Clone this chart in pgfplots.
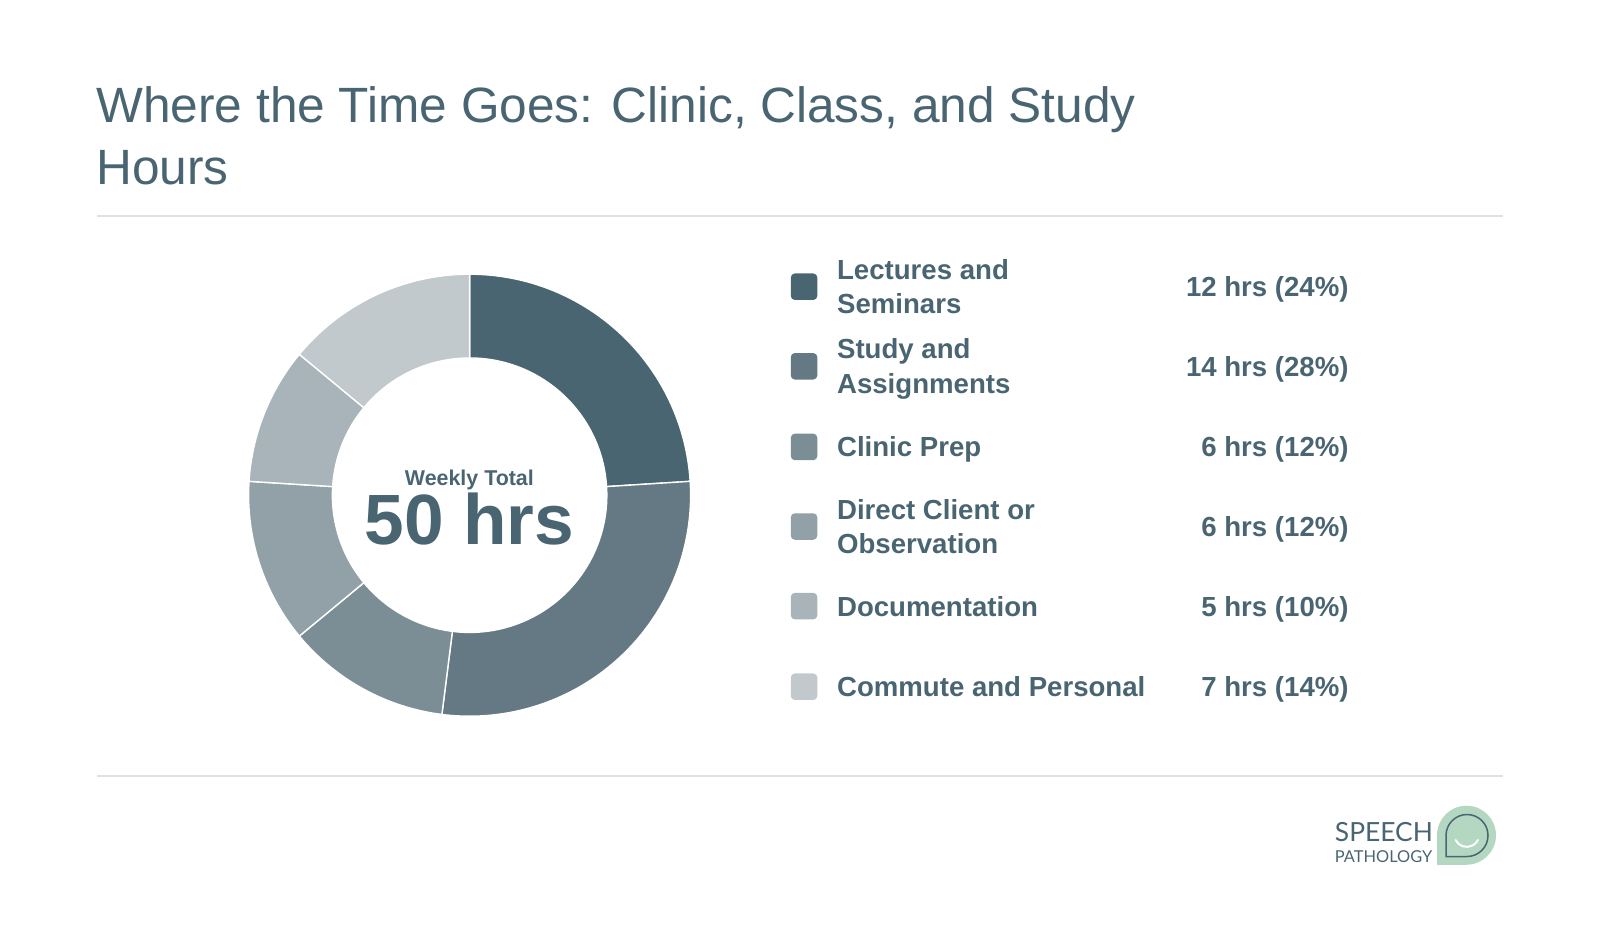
\documentclass[border=0pt]{standalone}
\usepackage{pgfplots}
\pgfplotsset{compat=1.18}
\usepackage{pgfplotstable}
\usepackage{fontspec}
\setmainfont{Liberation Sans}
\newfontfamily\logofont{Lato}
\definecolor{ink}{HTML}{4A6572}
\definecolor{slice0}{HTML}{4A6572}
\definecolor{slice1}{HTML}{647983}
\definecolor{slice2}{HTML}{7B8E96}
\definecolor{slice3}{HTML}{91A1A7}
\definecolor{slice4}{HTML}{A8B4B9}
\definecolor{slice5}{HTML}{C1C9CD}
\definecolor{rulec}{HTML}{DDE2E5}
\definecolor{mint}{HTML}{B3D7C1}

\pgfplotstableread{
hours
12
14
6
6
5
7
}\timedata

\begin{document}
\begin{tikzpicture}[x=0.5pt,y=-0.5pt]
\path[use as bounding box] (0,0) rectangle (1600,936);
% cumulative angles from the data
\pgfmathsetmacro\total{0}
\pgfplotsforeachungrouped \i in {0,...,5}{%
  \pgfplotstablegetelem{\i}{hours}\of\timedata
  \pgfmathsetmacro\total{\total+\pgfplotsretval}}
\pgfmathsetmacro\degper{360/\total}
\pgfmathsetmacro\runsum{0}
\pgfplotsforeachungrouped \i in {0,...,5}{%
  \pgfplotstablegetelem{\i}{hours}\of\timedata
  \pgfmathsetmacro\sa{90-\degper*\runsum}%
  \pgfmathsetmacro\runsum{\runsum+\pgfplotsretval}%
  \pgfmathsetmacro\ea{90-\degper*\runsum}%
  \expandafter\xdef\csname sa\i\endcsname{\sa}%
  \expandafter\xdef\csname ea\i\endcsname{\ea}}

\begin{axis}[at={(234.8pt,-247.6pt)}, anchor=center, x=110.5pt, y=110.5pt,
  xmin=-1, xmax=1, ymin=-1, ymax=1, hide axis, clip=false]
\pgfplotsinvokeforeach{0,...,5}{%
  \edef\sliceA{\csname sa#1\endcsname}%
  \edef\sliceB{\csname ea#1\endcsname}%
  \edef\tmp{\noexpand\fill[slice#1, draw=white, line width=0.7pt]
    (axis cs:{cos(\sliceA)},{sin(\sliceA)})
    arc[start angle=\sliceA, end angle=\sliceB, radius=110.5pt]
    -- (axis cs:{0.621*cos(\sliceB)},{0.621*sin(\sliceB)})
    arc[start angle=\sliceB, end angle=\sliceA, radius=68.62pt] -- cycle;}%
  \tmp}
\end{axis}

% title
\node[anchor=base west, inner sep=0, text=ink, font=\fontsize{24.8}{31}\selectfont] at (96,122.7) {Where the Time Goes: Clinic, Class, and Study};
\node[anchor=base west, inner sep=0, text=ink, font=\fontsize{24.8}{31}\selectfont] at (96,185) {Hours};
\draw[rulec, line width=1pt] (97,216.3) -- (1503,216.3);
\draw[rulec, line width=1pt] (97,775.5) -- (1503,775.5);

% center text
\node[anchor=base, inner sep=0, text=ink, font=\bfseries\fontsize{10.7}{12}\selectfont] at (469.4,485) {Weekly Total};
\node[anchor=base, inner sep=0, text=ink, font=\bfseries\fontsize{35.6}{40}\selectfont] at (469.4,544) {50 hrs};

% legend
\def\lfont{\bfseries\fontsize{13.8}{17}\selectfont}
\foreach \r/\c/\la/\lb/\v in {
  286.7/slice0/Lectures and/Seminars/12 hrs (24\%),
  366.3/slice1/Study and/Assignments/14 hrs (28\%),
  526.5/slice3/Direct Client or/Observation/6 hrs (12\%)}{
  \fill[\c, rounded corners=2pt] (790.8,\r-13.25) rectangle ++(26.5,26.5);
  \node[anchor=base west, inner sep=0, text=ink, font=\lfont] at (836.7,\r-7.45) {\la};
  \node[anchor=base west, inner sep=0, text=ink, font=\lfont] at (836.7,\r+27.25) {\lb};
  \node[anchor=base east, inner sep=0, text=ink, font=\lfont] at (1349,\r+9.9) {\v};
}
\foreach \r/\c/\la/\v in {
  446.9/slice2/Clinic Prep/6 hrs (12\%),
  606.1/slice4/Documentation/5 hrs (10\%),
  686.7/slice5/Commute and Personal/7 hrs (14\%)}{
  \fill[\c, rounded corners=2pt] (790.8,\r-13.25) rectangle ++(26.5,26.5);
  \node[anchor=base west, inner sep=0, text=ink, font=\lfont] at (836.7,\r+9.9) {\la};
  \node[anchor=base east, inner sep=0, text=ink, font=\lfont] at (1349,\r+9.9) {\v};
}

% logo
\fill[mint] (1466.5,835.2) circle[radius=14.75pt];
\fill[mint] (1436.8,835.2) rectangle (1466.5,864.7);
\draw[ink, line width=0.75pt] (1446,835) -- (1446,856.5) -- (1467,856.5)
  arc[start angle=-90, end angle=180, radius=10.5pt] -- cycle;
\draw[white, line width=1pt, line cap=round] (1455.5,840) arc[start angle=207, end angle=333, radius=6.3pt];
\node[anchor=base west, inner sep=0, text=ink, font=\logofont\fontsize{13.2}{14}\selectfont] at (1334.5,841) {SPEECH};
\node[anchor=base west, inner sep=0, text=ink, font=\logofont\fontsize{8.2}{9}\selectfont] at (1334.5,862) {PATHOLOGY};
\end{tikzpicture}
\end{document}
